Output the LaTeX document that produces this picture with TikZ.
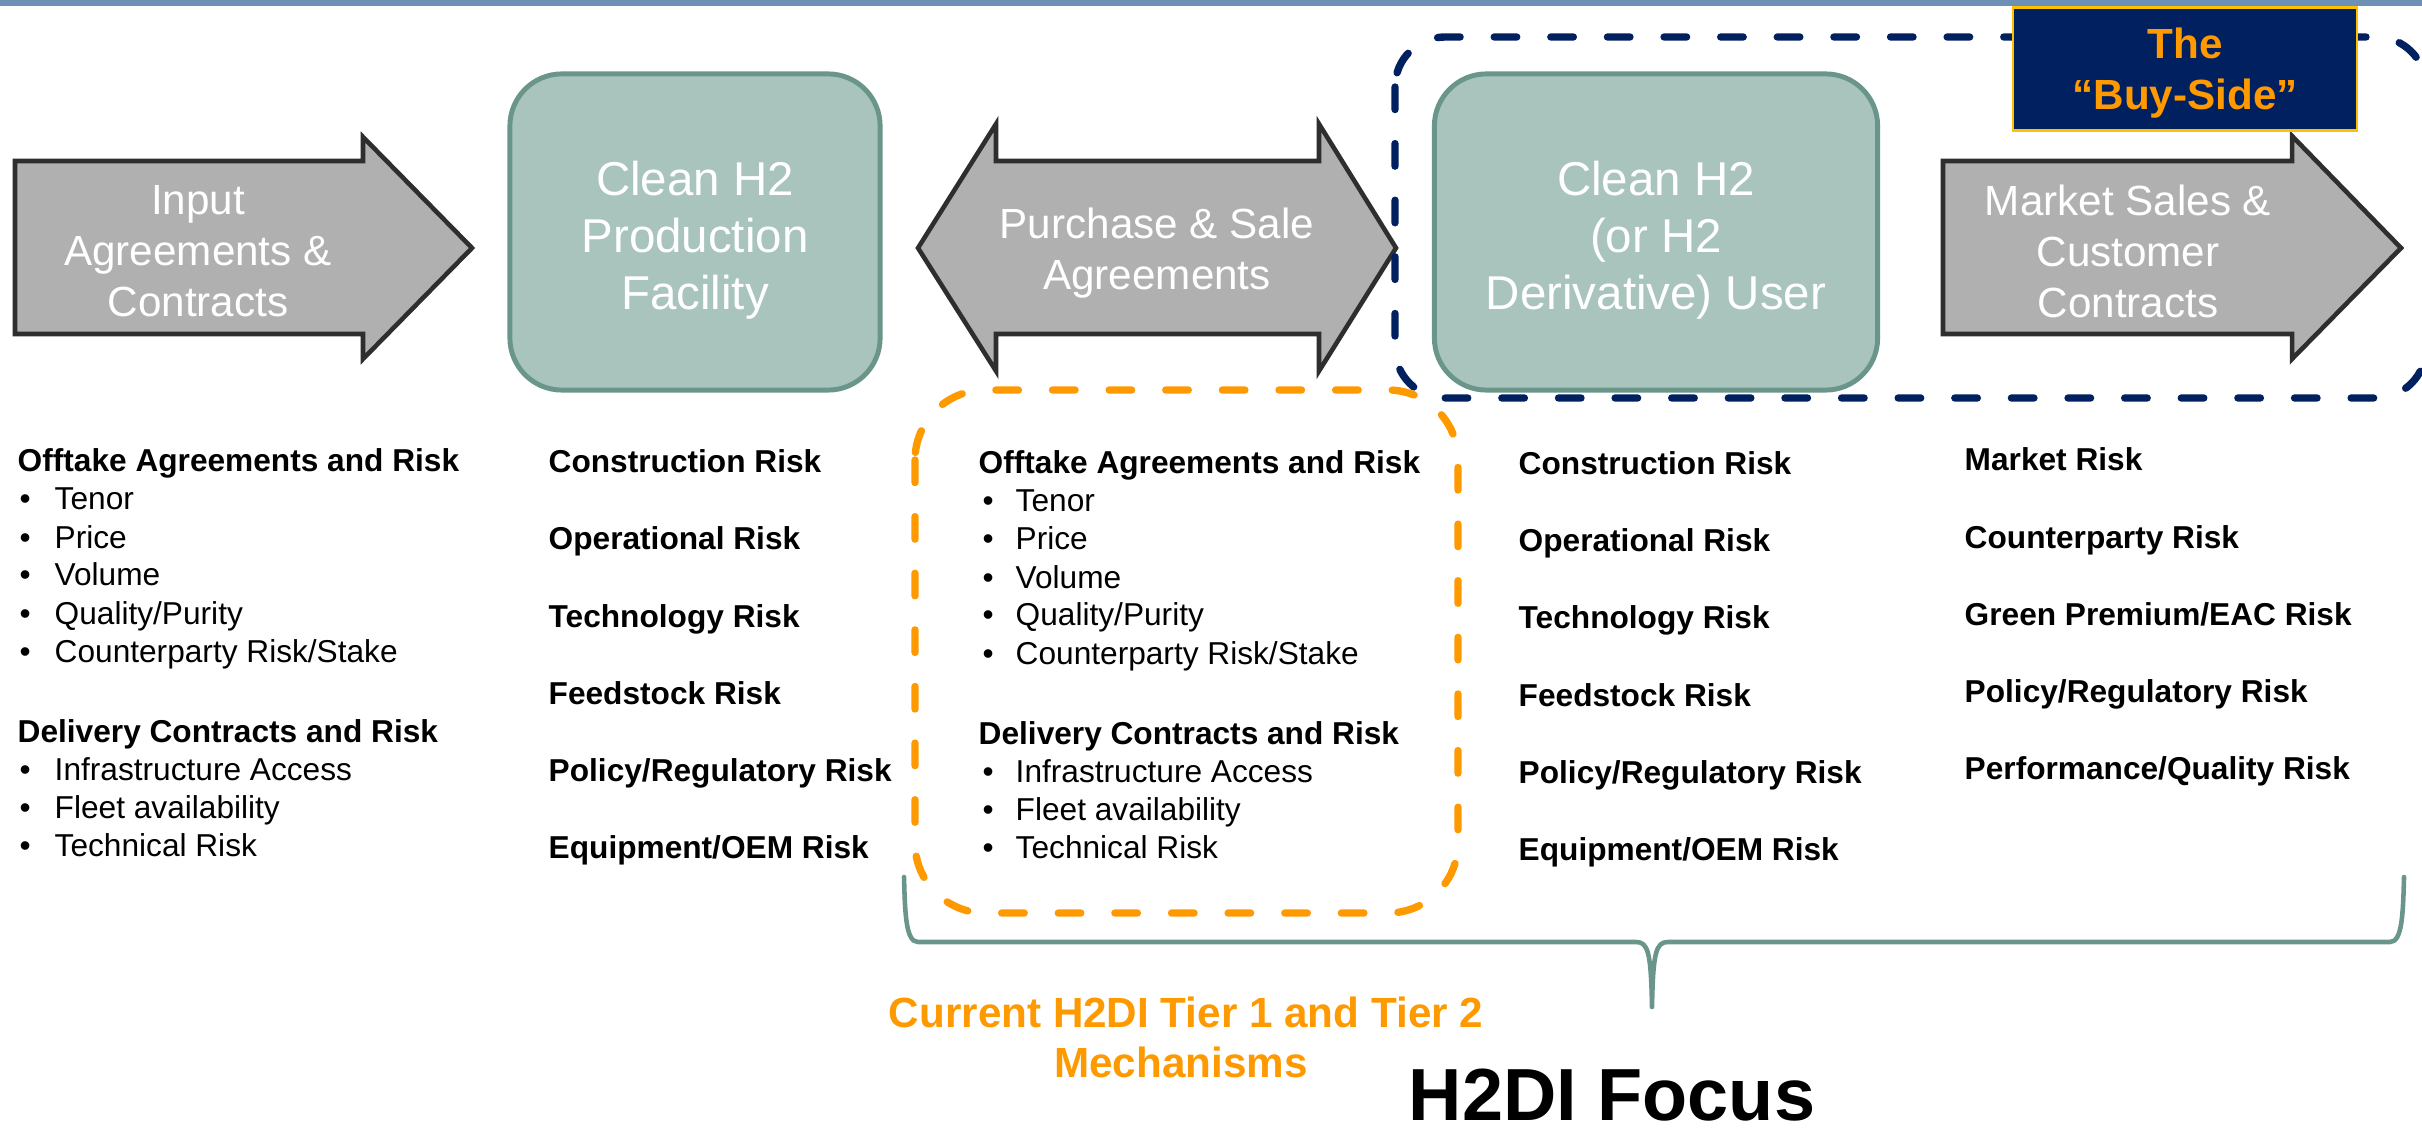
\documentclass[tikz,border=0pt]{standalone}
\usepackage{fontspec}
\setmainfont{Liberation Sans}
\definecolor{barblue}{HTML}{6F90B5}
\definecolor{arrowfill}{HTML}{B0B0B0}
\definecolor{arrowline}{HTML}{2E2E2E}
\definecolor{sagefill}{HTML}{A8C4BD}
\definecolor{sageline}{HTML}{6A958A}
\definecolor{navy}{HTML}{002060}
\definecolor{tierorange}{HTML}{FF9900}
\definecolor{gold}{HTML}{FFC000}
\begin{document}
\begin{tikzpicture}[x=0.01cm,y=-0.01cm,
  flowarrow/.style={fill=arrowfill,draw=arrowline,line width=1.3pt,line join=miter},
  arrowtext/.style={text=white,align=center,inner sep=0pt,font=\fontsize{12}{14.5}\selectfont},
  stage/.style={fill=sagefill,draw=sageline,line width=1.4pt,rounded corners=0.52cm,inner sep=0pt},
  stagetext/.style={text=white,align=center,inner sep=0pt,font=\fontsize{13.5}{16.2}\selectfont},
  dashbox/.style={line width=2.1pt,line cap=round,dash pattern=on 6.4pt off 9.7pt},
  hdr/.style={anchor=base west,inner sep=0pt,font=\fontsize{9}{10.8}\selectfont\bfseries},
  itm/.style={anchor=base west,inner sep=0pt,font=\fontsize{9}{10.8}\selectfont},
  brace/.style={draw=sageline,line width=1.3pt,line cap=round,line join=round},
  caption/.style={anchor=base,inner sep=0pt,text=tierorange,font=\fontsize{12}{14}\selectfont\bfseries}
]
\useasboundingbox (0,0) rectangle (2422,1137);
\fill[white] (0,0) rectangle (2422,1137);
% header band
\fill[barblue] (0,0) rectangle (2422,6);

% flow arrows
\draw[flowarrow] (15,161) -- (363,161) -- (363,137) -- (472,248) -- (363,359) -- (363,334) -- (15,334) -- cycle;
\node[arrowtext] (inTxt) at (198,251) {Input\\Agreements \&\\Contracts};

\draw[flowarrow] (918,248) -- (996,124) -- (996,161) -- (1319,161) -- (1319,124) -- (1396,248)
  -- (1319,371) -- (1319,334) -- (996,334) -- (996,371) -- cycle;
\node[arrowtext] (psTxt) at (1157,253) {Purchase \& Sale\\Agreements};

\draw[flowarrow] (1943,161) -- (2292,161) -- (2292,136) -- (2401,248) -- (2292,359) -- (2292,334) -- (1943,334) -- cycle;
\node[arrowtext] (mkTxt) at (2128,251) {Market Sales \&\\Customer\\Contracts};

% stages
\node[stage,minimum width=3.70cm,minimum height=3.16cm] (prod) at (695,232) {};
\node[stagetext] (prodTxt) at (695,240) {Clean H2\\Production\\Facility};
\node[stage,minimum width=4.43cm,minimum height=3.16cm] (user) at (1656,232) {};
\node[stagetext] (userTxt) at (1656,240) {Clean H2\\(or H2\\Derivative) User};

% buy-side frame
\draw[dashbox,draw=navy,rounded corners=0.5cm] (1395,37) rectangle (2426,398);
\node[fill=navy,draw=gold,line width=0.6pt,minimum width=3.44cm,minimum height=1.23cm,inner sep=0pt]
  (buy) at (2185,69) {};
\node[align=center,inner sep=0pt,text=tierorange,font=\fontsize{12}{14.5}\selectfont\bfseries]
  (buyTxt) at (2185,73) {The\\“Buy-Side”};

% tier 1/2 frame
\draw[dashbox,draw=tierorange,rounded corners=0.7cm] (915,390) rectangle (1458,913);

% column 1
\node[hdr] (c1h1) at (17,472) {Offtake Agreements and Risk};
\foreach \t [count=\i] in {Tenor,Price,Volume,Quality/Purity,Counterparty Risk/Stake}{
  \node[itm] (c1d\i) at (19,{472+38*\i}) {•};
  \node[itm] (c1t\i) at (54,{472+38*\i}) {\t};
}
\node[hdr] (c1h2) at (17,742) {Delivery Contracts and Risk};
\foreach \t [count=\i] in {Infrastructure Access,Fleet availability,Technical Risk}{
  \node[itm] (c1e\i) at (19,{742+38*\i}) {•};
  \node[itm] (c1u\i) at (54,{742+38*\i}) {\t};
}

% column 2
\foreach \t [count=\i from 0] in {Construction Risk,Operational Risk,Technology Risk,Feedstock Risk,Policy/Regulatory Risk,Equipment/OEM Risk}{
  \node[hdr] (c2r\i) at (548,{473+77*\i}) {\t};
}

% column 3
\node[hdr] (c3h1) at (978,474) {Offtake Agreements and Risk};
\foreach \t [count=\i] in {Tenor,Price,Volume,Quality/Purity,Counterparty Risk/Stake}{
  \node[itm] (c3d\i) at (982,{474+38*\i}) {•};
  \node[itm] (c3t\i) at (1015,{474+38*\i}) {\t};
}
\node[hdr] (c3h2) at (978,744) {Delivery Contracts and Risk};
\foreach \t [count=\i] in {Infrastructure Access,Fleet availability,Technical Risk}{
  \node[itm] (c3e\i) at (982,{744+38*\i}) {•};
  \node[itm] (c3u\i) at (1015,{744+38*\i}) {\t};
}

% column 4
\foreach \t [count=\i from 0] in {Construction Risk,Operational Risk,Technology Risk,Feedstock Risk,Policy/Regulatory Risk,Equipment/OEM Risk}{
  \node[hdr] (c4r\i) at (1518,{475+77*\i}) {\t};
}

% column 5
\foreach \t [count=\i from 0] in {Market Risk,Counterparty Risk,Green Premium/EAC Risk,Policy/Regulatory Risk,Performance/Quality Risk}{
  \node[hdr] (c5r\i) at (1964,{471+77*\i}) {\t};
}

% focus brace
\draw[brace] (904,877) .. controls (905,915) and (906,942) .. (918,942) -- (1636,942)
  .. controls (1648,942) and (1651,952) .. (1652,1007)
  .. controls (1653,952) and (1656,942) .. (1668,942) -- (2390,942)
  .. controls (2402,942) and (2403,915) .. (2404,877);

% captions
\node[caption] (tierA) at (1186,1027) {Current H2DI Tier 1 and Tier 2};
\node[caption] (tierB) at (1181,1077) {Mechanisms};
\node[anchor=base,inner sep=0pt,text depth=0pt,font=\fontsize{21}{25}\selectfont\bfseries] (focus) at (1612,1120) {H2DI Focus};
\end{tikzpicture}
\end{document}
